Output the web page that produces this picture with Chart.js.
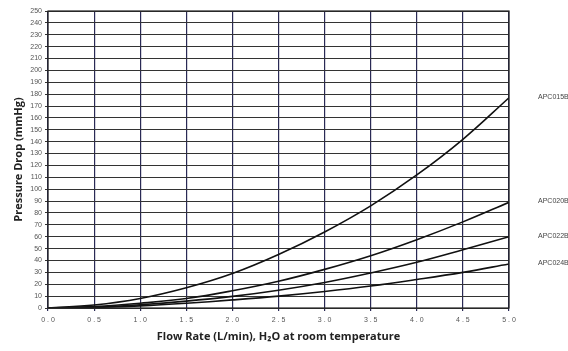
<!DOCTYPE html>
<html>
<head>
<meta charset="utf-8">
<script src="https://cdn.jsdelivr.net/npm/chart.js@4/dist/chart.umd.min.js"></script>
<style>
  html, body { margin: 0; padding: 0; background: #fff; }
  #wrap { width: 568px; height: 351px; }
</style>
</head>
<body>
<div id="wrap"><canvas id="flowChart" width="568" height="351"></canvas></div>
<script>
'use strict';

// flow rate, L/min
const flowRates = [0, 0.5, 1.0, 1.5, 2.0, 2.5, 3.0, 3.5, 4.0, 4.5, 5.0];
const seriesNames = ['APC015B', 'APC020B', 'APC022B', 'APC024B'];
// pressure drop, mmHg
const apc015b = [0, 2.5, 8, 17, 29, 45, 64, 86, 112, 142, 177];
const apc020b = [0, 1.2, 4, 8, 14.5, 22.5, 32.5, 44, 57.5, 72.5, 89];
const apc022b = [0, 0.8, 2.8, 5.8, 9.8, 15, 21.5, 29.5, 38.5, 49, 60];
const apc024b = [0, 0.5, 1.8, 4, 6.8, 10, 13.9, 18.5, 24, 30, 37];
const xTicks = ['0.0', '0.5', '1.0', '1.5', '2.0', '2.5', '3.0', '3.5', '4.0', '4.5', '5.0'];

const allSeries = [apc015b, apc020b, apc022b, apc024b];

const endLabels = {
  id: 'endLabels',
  afterDatasetsDraw(chart) {
    const ctx = chart.ctx;
    const xs = chart.scales.x, ys = chart.scales.y;
    ctx.save();
    ctx.font = '7px "Liberation Sans", Arial, sans-serif';
    ctx.fillStyle = '#444';
    ctx.textBaseline = 'middle';
    chart.data.datasets.forEach((ds) => {
      const last = ds.data[ds.data.length - 1];
      ctx.fillText(ds.label, xs.right + 29, ys.getPixelForValue(last.y) - 1);
    });
    ctx.restore();
  }
};

const frame = {
  id: 'frame',
  beforeDraw(chart) {
    const ctx = chart.ctx;
    ctx.save();
    ctx.fillStyle = '#fff';
    ctx.fillRect(0, 0, chart.width, chart.height);
    ctx.restore();
  },
  afterDatasetsDraw(chart) {
    const a = chart.chartArea;
    const ctx = chart.ctx;
    ctx.save();
    ctx.strokeStyle = '#222';
    ctx.lineWidth = 1.2;
    ctx.strokeRect(a.left, a.top, a.right - a.left, a.bottom - a.top);
    ctx.restore();
  }
};

let datasets = seriesNames.map((name, i) => ({
  label: name,
  data: flowRates.map((f, j) => ({ x: f, y: allSeries[i][j] })),
  borderColor: '#111',
  borderWidth: 1.6,
  pointRadius: 0,
  fill: false,
  tension: 0.4
}));

let chart = new Chart(document.getElementById('flowChart'), {
  type: 'line',
  data: { datasets: datasets },
  plugins: [frame, endLabels],
  options: {
    responsive: false,
    animation: false,
    layout: { padding: { top: 11, right: 59, left: 8, bottom: 4 } },
    plugins: { legend: { display: false }, tooltip: { enabled: false } },
    scales: {
      x: {
        type: 'linear',
        min: 0, max: 5,
        afterBuildTicks(axis) {
          axis.ticks = flowRates.map((v) => ({ value: v }));
        },
        afterFit(axis) { axis.height = 39; },
        grid: { color: '#2a2a55', lineWidth: 1.2, drawTicks: true, tickLength: 3 },
        border: { display: false },
        ticks: {
          color: '#555',
          font: { size: 7, family: '"Liberation Sans", Arial, sans-serif' },
          padding: 5,
          maxRotation: 0,
          callback: (v, i) => xTicks[i].split('').join(' ')
        },
        title: {
          display: true,
          text: 'Flow Rate (L/min), H\u2082O at room temperature',
          color: '#222',
          font: { size: 11, weight: 'bold', family: '"Open Sans", "DejaVu Sans", sans-serif' },
          padding: { top: 3 }
        }
      },
      y: {
        min: 0, max: 250,
        afterFit(axis) { axis.width = 40; },
        grid: { color: '#333', lineWidth: 1, drawTicks: true, tickLength: 3 },
        border: { display: false },
        ticks: {
          stepSize: 10,
          autoSkip: false,
          color: '#555',
          font: { size: 7, family: '"Liberation Sans", Arial, sans-serif' },
          padding: 3
        },
        title: {
          display: true,
          text: 'Pressure Drop (mmHg)',
          color: '#222',
          font: { size: 11, weight: 'bold', family: '"Open Sans", "DejaVu Sans", sans-serif' },
          padding: { bottom: 0 }
        }
      }
    }
  }
});
</script>
</body>
</html>
